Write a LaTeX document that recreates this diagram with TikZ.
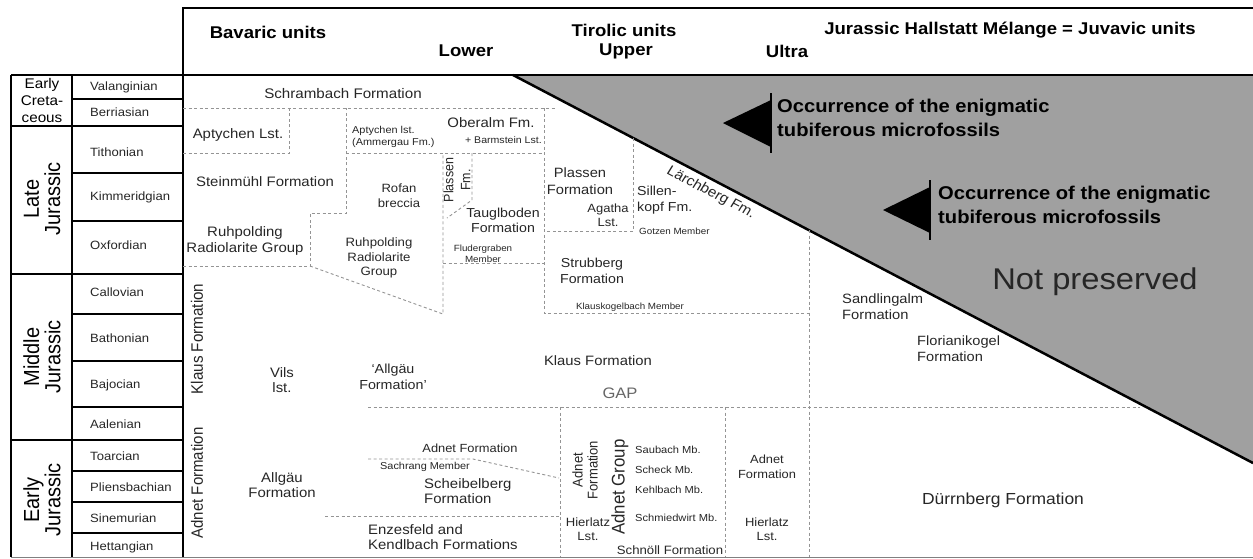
\documentclass[tikz,border=0pt]{standalone}
\usepackage{fontspec}
\setmainfont{Liberation Sans}
\newcommand{\fsz}[2]{\fontsize{#1}{#2}\selectfont}
\definecolor{npgray}{RGB}{160,160,160}
\begin{document}
\begin{tikzpicture}[x=0.9174pt,y=-1pt,xscale=1.09,
    every node/.append style={transform shape,inner sep=0pt,text=black!85},
    fm/.style={align=center,font=\fsz{13.7}{15.8}},
    sm/.style={align=center,font=\fsz{10}{12.5}},
    mbr/.style={align=center,font=\fsz{9}{10.5}},
    mb/.style={anchor=west,font=\fsz{10.2}{12}},
    stg/.style={anchor=west,font=\fsz{12}{14}},
    hdr/.style={font=\bfseries\fsz{17}{20},text=black},
    occ/.style={anchor=west,align=left,font=\bfseries\fsz{18.5}{23.5},text=black},
    per/.style={align=center,rotate=90,font=\fsz{20}{19.5},text=black},
    bnd/.style={draw=black!42,line width=0.9pt,dash pattern=on 3pt off 2.5pt},
    frame/.style={line width=2pt}]
\useasboundingbox (0,0) rectangle (1253,558);
% not preserved part
\fill[npgray] (513,75) -- (1253,75) -- (1253,463) -- cycle;
\draw[line width=2.5pt] (513,75) -- (1253,463);
% frame and time table
\draw[frame] (1253,8) -- (183,8) -- (183,557);
\draw[frame] (11,75) -- (1253,75);
\draw[frame] (11,75) -- (11,557);
\draw[frame] (72,75) -- (72,557);
\foreach \y in {125.5,274,440} \draw[frame] (11,\y) -- (183,\y);
\foreach \y in {99,173,221,314,361,407,471,502,533} \draw[line width=1.4pt] (72,\y) -- (183,\y);
\draw[black!50,line width=1pt] (11,557) -- (1253,557);
% boundaries
\draw[bnd] (183,108) -- (556,108);
\draw[bnd] (183,153) -- (289,153) -- (289,108);
\draw[bnd] (183,266) -- (310,266) -- (310,213) -- (346,213) -- (346,108);
\draw[bnd] (310,266) -- (443,314) -- (443,153);
\draw[bnd] (346,153) -- (544,153);
\draw[bnd] (472,153) -- (472,200) -- (447,218);
\draw[bnd] (443,263) -- (544,263);
\draw[bnd] (544,108) -- (544,313) -- (809,313);
\draw[bnd] (633,138) -- (633,231) -- (544,231);
\draw[bnd] (809,230) -- (809,557);
\draw[bnd] (368,407) -- (1140,407);
\draw[bnd] (560,407) -- (560,557);
\draw[bnd] (725,407) -- (725,557);
\draw[bnd] (368,459) -- (473,459) -- (559,478);
\draw[bnd] (325,516) -- (559,516);
% arrows
\fill (723,123) -- (771,100) -- (771,147) -- cycle;
\draw[line width=2.5pt] (771,93) -- (771,153);
\fill (883,210) -- (930,187) -- (930,233) -- cycle;
\draw[line width=2.5pt] (930,180) -- (930,240);
% header
\node[hdr] (bav) at (268,32) {Bavaric units};
\node[hdr] (tir) at (624,30) {Tirolic units};
\node[hdr] (low) at (466,51) {Lower};
\node[hdr] (upp) at (626,51) {Upper};
\node[hdr] (ult) at (787,51) {Ultra};
\node[hdr] (juv) at (1010,30) {Jurassic Hallstatt Mélange = Juvavic units};
% periods and stages
\node[align=center,font=\fsz{14}{17},text=black] (ecr) at (42,100) {Early\\Creta-\\ceous};
\node[per] (lj) at (42,199) {Late\\Jurassic};
\node[per] (mj) at (42,357) {Middle\\Jurassic};
\node[per] (ej) at (42,500) {Early\\Jurassic};
\foreach \n/\y in {Valanginian/87,Berriasian/112,Tithonian/152,Kimmeridgian/197,
    Oxfordian/245,Callovian/292,Bathonian/338,Bajocian/385,Aalenian/424,
    Toarcian/456,Pliensbachian/487,Sinemurian/518,Hettangian/547}
  \node[stg] (s\n) at (90,\y) {\n};
% Bavaric units
\node[rotate=90,font=\fsz{15.2}{17}] (klrot) at (197,339) {Klaus Formation};
\node[rotate=90,font=\fsz{15}{17}] (adrot) at (197,483) {Adnet Formation};
\node[fm,font=\fsz{13.9}{16}] (schr) at (343,94) {Schrambach Formation};
\node[fm] (aptl) at (238,135) {Aptychen Lst.};
\node[fm] (stein) at (265,182) {Steinmühl Formation};
\node[fm] (ruh1) at (245,241) {Ruhpolding\\Radiolarite Group};
\node[sm,align=left,anchor=west] (aptam) at (352,137) {Aptychen lst.\\(Ammergau Fm.)};
\node[fm,font=\fsz{12}{15}] (rofan) at (399,196) {Rofan\\breccia};
\node[fm,font=\fsz{12.1}{14.5}] (ruh2) at (379,258) {Ruhpolding\\Radiolarite\\Group};
\node[fm] (vils) at (282,380) {Vils\\lst.};
\node[fm,font=\fsz{13.1}{15.5}] (allg1) at (393,377) {`Allgäu\\Formation'};
\node[fm] (allg2) at (282,485) {Allgäu\\Formation};
\node[fm,font=\fsz{11.8}{14}] (adnb) at (470,448) {Adnet Formation};
\node[sm,fill=white,inner sep=1pt] (sach) at (425,467) {Sachrang Member};
\node[fm,align=left,anchor=west] (scheib) at (424,491) {Scheibelberg\\Formation};
\node[fm,align=left,anchor=west] (enz) at (368,537) {Enzesfeld and\\Kendlbach Formations};
% Tirolic units
\node[fm] (ober) at (491,123) {Oberalm Fm.};
\node[sm,anchor=east,font=\fsz{9.7}{11}] (barm) at (542,140) {+ Barmstein Lst.};
\node[rotate=90,align=center,font=\fsz{12.5}{15.5}] (plfm) at (457,180) {Plassen\\Fm.};
\node[fm,font=\fsz{13}{15}] (taug) at (503,220) {Tauglboden\\Formation};
\node[mbr] (flud) at (483,254) {Fludergraben\\Member};
\node[fm,font=\fsz{13.5}{16.5}] (plas) at (580,181) {Plassen\\Formation};
\node[fm,font=\fsz{11.9}{14}] (agat) at (608,215) {Agatha\\Lst.};
\node[fm,align=left,anchor=west,font=\fsz{13}{16}] (sill) at (637,200) {Sillen-\\kopf Fm.};
\node[mbr,anchor=west] (gotz) at (639,231) {Gotzen Member};
\node[fm,rotate=-29.7,font=\fsz{14}{16}] (laer) at (711,193) {Lärchberg Fm.};
\node[fm,font=\fsz{13}{16}] (strub) at (592,271) {Strubberg\\Formation};
\node[mbr] (klk) at (630,307) {Klauskogelbach Member};
\node[fm,font=\fsz{13.6}{16}] (klaus) at (598,361) {Klaus Formation};
\node[font=\fsz{15.2}{17},text=black!60] (gap) at (620,393) {GAP};
\node[rotate=90,align=center,font=\fsz{13}{13.8}] (adnu) at (585,470) {Adnet\\Formation};
\node[rotate=90,font=\fsz{16.8}{18}] (adng) at (620,487) {Adnet Group};
\node[mb] (saub) at (635,450) {Saubach Mb.};
\node[mb] (sche) at (635,470) {Scheck Mb.};
\node[mb] (kehl) at (635,490) {Kehlbach Mb.};
\node[mb] (schm) at (635,518) {Schmiedwirt Mb.};
\node[fm,font=\fsz{12}{13.5}] (hier1) at (588,529) {Hierlatz\\Lst.};
\node[fm,font=\fsz{12.1}{14}] (schn) at (670,550) {Schnöll Formation};
\node[fm,font=\fsz{11.8}{15}] (adnu2) at (767,467) {Adnet\\Formation};
\node[fm,font=\fsz{11.9}{13.5}] (hier2) at (767,529) {Hierlatz\\Lst.};
% Juvavic units
\node[fm,align=left,anchor=west,font=\fsz{13.5}{16}] (sand) at (842,307) {Sandlingalm\\Formation};
\node[fm,align=left,anchor=west,font=\fsz{13.4}{16}] (flor) at (917,349) {Florianikogel\\Formation};
\node[font=\fsz{16}{18}] (durr) at (1003,500) {Dürrnberg Formation};
\node[font=\fsz{30}{32}] (notp) at (1095,282) {Not preserved};
\node[occ] (occ1) at (777,118) {Occurrence of the enigmatic\\tubiferous microfossils};
\node[occ] (occ2) at (938,205) {Occurrence of the enigmatic\\tubiferous microfossils};
\end{tikzpicture}
\end{document}
